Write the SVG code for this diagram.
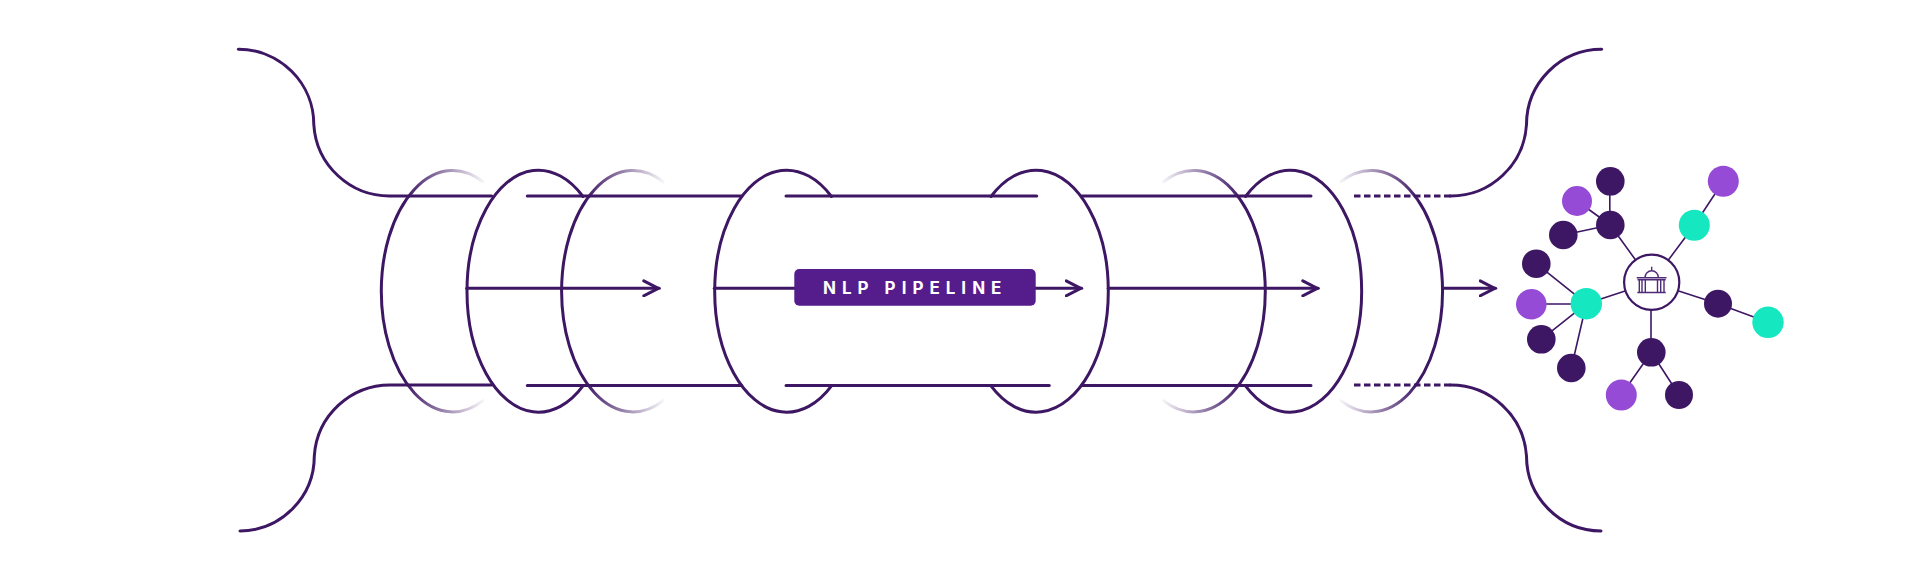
<svg xmlns="http://www.w3.org/2000/svg" xmlns:xlink="http://www.w3.org/1999/xlink" width="1920" height="583" viewBox="0 0 1920 583">
<style>
.ln{fill:none;stroke:#3e1764;stroke-width:3;stroke-linecap:round}
.dash{fill:none;stroke:#3e1764;stroke-width:3;stroke-dasharray:6.5 3.5}
.ed{fill:none;stroke:#3e1764;stroke-width:1.6}
.dk{fill:#3e1764}.pu{fill:#964bd7}.te{fill:#15e8c1}
.ic{fill:none;stroke:#4f2a78;stroke-width:1.4}
.lbl{font-family:"Inter","Liberation Sans",sans-serif;font-size:17px;font-weight:700;letter-spacing:6px;fill:#fff}
</style>
<defs>
<linearGradient id="fs"><stop offset="0" stop-color="#3e1764"/><stop offset="1" stop-color="#3e1764" stop-opacity="0"/></linearGradient>
<linearGradient id="f1" xlink:href="#fs" gradientUnits="userSpaceOnUse" x1="405" y1="0" x2="487" y2="0"/>
<linearGradient id="f3" xlink:href="#fs" gradientUnits="userSpaceOnUse" x1="585" y1="0" x2="667" y2="0"/>
<linearGradient id="f6" xlink:href="#fs" gradientUnits="userSpaceOnUse" x1="1241" y1="0" x2="1159" y2="0"/>
<linearGradient id="f8" xlink:href="#fs" gradientUnits="userSpaceOnUse" x1="1418.7" y1="0" x2="1336.7" y2="0"/>
<marker id="ah" viewBox="0 0 18 18" refX="17" refY="9" markerWidth="18" markerHeight="18" markerUnits="userSpaceOnUse" orient="auto"><path d="M1.5 1.5L16 9L1.5 16.5" fill="none" stroke="#3e1764" stroke-width="3" stroke-linecap="round" stroke-linejoin="round"/></marker>
</defs>
<g id="connectors">
<path class="ln" d="M238.3 49.3A75.3 75.3 0 0 1 313.8 124.5A76 76 0 0 0 391 196H491.7"/>
<path class="ln" d="M240 531A75 75 0 0 0 314.3 456A76 76 0 0 1 391 385H491.7"/>
<path class="ln" d="M1601.7 49.3A75.3 75.3 0 0 0 1526.5 124.5A76 76 0 0 1 1450 196"/>
<path class="ln" d="M1601 531A75 75 0 0 1 1526.5 456A76 76 0 0 0 1450 385"/>
<path class="ln" d="M527.3 196H741.7M786 196H1036.7M1081.7 196H1311"/>
<path class="ln" d="M527.3 385.5H741.7M786 385.5H1049.3M1081.7 385.5H1311"/>
<path class="dash" d="M1354 196H1452"/>
<path class="dash" d="M1354 385H1452"/>
<path class="ln" style="stroke:url(#f1)" d="M483 181.8A71.5 120.7 0 1 0 483 400.6"/>
<path class="ln" d="M583 196.5A71.5 121 0 1 0 583 385.9"/>
<path class="ln" style="stroke:url(#f3)" d="M663.3 181.8A71.5 120.7 0 1 0 663.3 400.6"/>
<path class="ln" d="M831.5 196.5A72 121 0 1 0 831.5 385.9"/>
<path class="ln" d="M991 196.5A72.3 121 0 1 1 991 385.9"/>
<path class="ln" style="stroke:url(#f6)" d="M1163.3 181.8A71.7 120.7 0 1 1 1163.3 400.6"/>
<path class="ln" d="M1245.5 196.5A71.6 121 0 1 1 1245.5 385.9"/>
<path class="ln" style="stroke:url(#f8)" d="M1340.7 181.8A71.6 120.7 0 1 1 1340.7 400.6"/>
<path class="ln" marker-end="url(#ah)" d="M466.7 288.3H659.3"/>
<path class="ln" d="M714.3 288.3H795"/>
<path class="ln" marker-end="url(#ah)" d="M1035 288.3H1081.7"/>
<path class="ln" marker-end="url(#ah)" d="M1108.3 288.3H1318.3"/>
<path class="ln" marker-end="url(#ah)" d="M1443.3 288.3H1495.7"/>
<g id="graph-edges">
<path class="ed" d="M1651.7 282.3L1610.3 225M1609.8 181.3V225M1577 201L1610.3 225M1563.3 235L1610.3 225"/>
<path class="ed" d="M1651.7 282.3L1694.3 225.3L1723.3 181.3"/>
<path class="ed" d="M1651.7 282.3L1586.3 303.7M1536.3 263.7L1586.3 303.7M1531.3 304H1586.3M1541.3 339.3L1586.3 303.7M1571.3 368L1586.3 303.7"/>
<path class="ed" d="M1651.7 282.3L1718 303.7L1768 322.3"/>
<path class="ed" d="M1651 282.3V352.3M1651.3 352.3L1621.3 395M1651.3 352.3L1679 395"/>
</g>
</g>
<g id="label-nlp-pipeline">
<rect x="794.3" y="269" width="241.4" height="36.7" rx="5" fill="#551c8c"/>
<text class="lbl" x="823" y="293.5">NLP PIPELINE</text>
</g>
<g id="hub">
<circle cx="1651.7" cy="282.3" r="27.6" fill="#fff" stroke="#3e1764" stroke-width="2.2"/>
<g id="hub-icon">
<path class="ic" d="M1636.7 277.8H1666.5M1637.5 279.8H1665.7M1637.3 292.5H1665.7"/>
<path class="ic" d="M1645 277.8A6.7 7 0 0 1 1658.4 277.8M1651.7 271V266.7"/>
<path class="ic" d="M1639.3 280V292.5M1642 280V292.5M1645.3 280V292.5M1657.5 280V292.5M1660.7 280V292.5M1664 280V292.5"/>
</g>
</g>
<g id="n1"><circle class="dk" cx="1610.3" cy="181.3" r="14.3"/></g>
<g id="n2"><circle class="pu" cx="1577" cy="201" r="15"/></g>
<g id="n3"><circle class="dk" cx="1610.3" cy="225" r="14.3"/></g>
<g id="n4"><circle class="dk" cx="1563.3" cy="235" r="14.3"/></g>
<g id="n5"><circle class="pu" cx="1723.3" cy="181.3" r="15.5"/></g>
<g id="n6"><circle class="te" cx="1694.3" cy="225.3" r="15.5"/></g>
<g id="n7"><circle class="dk" cx="1536.3" cy="263.7" r="14.3"/></g>
<g id="n8"><circle class="te" cx="1586.3" cy="303.7" r="15.7"/></g>
<g id="n9"><circle class="pu" cx="1531.3" cy="304.3" r="15.3"/></g>
<g id="n10"><circle class="dk" cx="1541.3" cy="339.3" r="14.3"/></g>
<g id="n11"><circle class="dk" cx="1571.3" cy="368" r="14.3"/></g>
<g id="n12"><circle class="dk" cx="1718" cy="303.7" r="14"/></g>
<g id="n13"><circle class="te" cx="1768" cy="322.3" r="15.7"/></g>
<g id="n14"><circle class="dk" cx="1651.3" cy="352.3" r="14.3"/></g>
<g id="n15"><circle class="pu" cx="1621.3" cy="395" r="15.5"/></g>
<g id="n16"><circle class="dk" cx="1679" cy="395" r="14"/></g>
</svg>
